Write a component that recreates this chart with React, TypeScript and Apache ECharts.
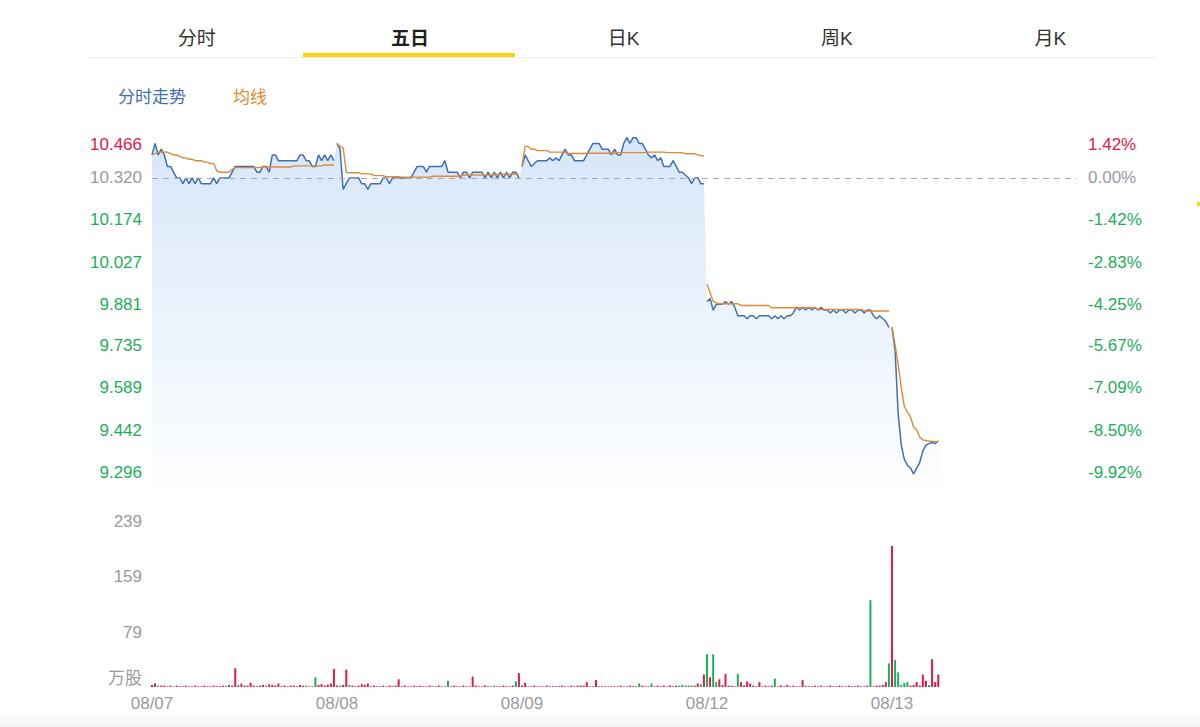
import React, { useEffect, useRef } from 'react';
import * as echarts from 'echarts';

// ---------- data ----------
const DAYS = ['08/07', '08/08', '08/09', '08/12', '08/13'];
const SLOTS_PER_DAY = 60;
const PREV_CLOSE = 10.32;
const PRICE_MIN = 9.2336;
const PRICE_MAX = 10.466;
const PRICE_TICKS = [10.466, 10.32, 10.174, 10.027, 9.881, 9.735, 9.589, 9.442, 9.296];
const PCT_TICKS = ['1.42%', '0.00%', '-1.42%', '-2.83%', '-4.25%', '-5.67%', '-7.09%', '-8.50%', '-9.92%'];
const VOL_TICKS = [0, 79, 159, 239];
const VOL_UNIT = '万股';
const TABS = ['分时', '五日', '日K', '周K', '月K'];
const ACTIVE_TAB = 1;
const LEGEND = ['分时走势', '均线'];

const price0807 = [
  10.40, 10.44, 10.40, 10.42, 10.40, 10.36, 10.36, 10.34, 10.32, 10.32,
  10.30, 10.32, 10.30, 10.32, 10.30, 10.32, 10.30, 10.30, 10.30, 10.30,
  10.32, 10.30, 10.32, 10.32, 10.32, 10.32, 10.34, 10.36, 10.36, 10.36,
  10.36, 10.36, 10.36, 10.36, 10.34, 10.34, 10.36, 10.36, 10.34, 10.40,
  10.40, 10.38, 10.38, 10.38, 10.38, 10.38, 10.38, 10.38, 10.40, 10.40,
  10.38, 10.38, 10.36, 10.36, 10.40, 10.38, 10.40, 10.38, 10.40, 10.38,
];
const price0808 = [
  10.44, 10.42, 10.28, 10.30, 10.32, 10.32, 10.32, 10.32, 10.30, 10.30,
  10.28, 10.30, 10.30, 10.30, 10.30, 10.32, 10.32, 10.30, 10.32, 10.32,
  10.32, 10.32, 10.32, 10.32, 10.32, 10.34, 10.36, 10.36, 10.36, 10.34,
  10.36, 10.36, 10.36, 10.36, 10.36, 10.38, 10.34, 10.34, 10.34, 10.34,
  10.32, 10.34, 10.34, 10.32, 10.34, 10.34, 10.34, 10.34, 10.32, 10.34,
  10.32, 10.34, 10.32, 10.34, 10.32, 10.34, 10.32, 10.34, 10.34, 10.32,
];
const price0809 = [
  10.36, 10.40, 10.38, 10.36, 10.37, 10.38, 10.38, 10.38, 10.38, 10.39,
  10.38, 10.39, 10.38, 10.40, 10.42, 10.40, 10.40, 10.38, 10.38, 10.38,
  10.38, 10.40, 10.42, 10.44, 10.44, 10.44, 10.42, 10.42, 10.42, 10.40,
  10.42, 10.40, 10.40, 10.44, 10.46, 10.44, 10.46, 10.46, 10.44, 10.44,
  10.42, 10.40, 10.39, 10.40, 10.38, 10.39, 10.36, 10.36, 10.36, 10.38,
  10.36, 10.34, 10.34, 10.33, 10.32, 10.30, 10.32, 10.32, 10.30, 10.30,
];
const price0812 = [
  9.89, 9.90, 9.86, 9.88, 9.88, 9.88, 9.89, 9.88, 9.89, 9.87,
  9.84, 9.84, 9.84, 9.83, 9.84, 9.84, 9.83, 9.84, 9.84, 9.84,
  9.84, 9.83, 9.84, 9.83, 9.84, 9.83, 9.84, 9.84, 9.85, 9.87,
  9.86, 9.87, 9.86, 9.87, 9.86, 9.87, 9.86, 9.87, 9.86, 9.86,
  9.85, 9.86, 9.85, 9.86, 9.86, 9.85, 9.86, 9.86, 9.85, 9.86,
  9.86, 9.85, 9.86, 9.86, 9.84, 9.83, 9.84, 9.83, 9.82, 9.80,
];
const price0813 = [
  9.80, 9.72, 9.50, 9.39, 9.34, 9.32, 9.31, 9.29, 9.31, 9.33,
  9.37, 9.39, 9.395, 9.40, 9.395, 9.405,
];

const avg0807 = [
  10.40, 10.405, 10.41, 10.41, 10.41, 10.41, 10.405, 10.40, 10.40, 10.395,
  10.39, 10.39, 10.385, 10.385, 10.38, 10.38, 10.38, 10.375, 10.375, 10.37,
  10.37, 10.345, 10.34, 10.34, 10.34, 10.34, 10.35, 10.356, 10.356, 10.356,
  10.356, 10.356, 10.356, 10.356, 10.356, 10.356, 10.358, 10.358, 10.358, 10.358,
  10.358, 10.358, 10.358, 10.358, 10.358, 10.358, 10.362, 10.362, 10.362, 10.362,
  10.362, 10.362, 10.362, 10.362, 10.362, 10.362, 10.365, 10.365, 10.365, 10.365,
];
const avg0808 = [
  10.44, 10.43, 10.425, 10.34, 10.338, 10.338, 10.338, 10.338, 10.334, 10.334,
  10.334, 10.334, 10.328, 10.328, 10.328, 10.328, 10.324, 10.324, 10.324, 10.324,
  10.324, 10.323, 10.323, 10.323, 10.323, 10.323, 10.323, 10.323, 10.323, 10.323,
  10.323, 10.326, 10.326, 10.326, 10.326, 10.326, 10.326, 10.326, 10.326, 10.326,
  10.326, 10.330, 10.330, 10.330, 10.330, 10.330, 10.330, 10.330, 10.330, 10.330,
  10.330, 10.333, 10.333, 10.333, 10.333, 10.333, 10.333, 10.333, 10.333, 10.333,
];
const avg0809 = [
  10.36, 10.43, 10.43, 10.42, 10.42, 10.415, 10.415, 10.415, 10.415, 10.41,
  10.41, 10.41, 10.41, 10.41, 10.41, 10.405, 10.405, 10.405, 10.405, 10.405,
  10.405, 10.406, 10.406, 10.406, 10.406, 10.406, 10.406, 10.406, 10.406, 10.406,
  10.406, 10.408, 10.408, 10.408, 10.408, 10.408, 10.408, 10.408, 10.408, 10.408,
  10.408, 10.41, 10.41, 10.41, 10.41, 10.41, 10.41, 10.408, 10.408, 10.408,
  10.408, 10.408, 10.408, 10.404, 10.404, 10.404, 10.404, 10.40, 10.398, 10.396,
];
const avg0812 = [
  9.95, 9.92, 9.89, 9.885, 9.882, 9.882, 9.882, 9.882, 9.882, 9.882,
  9.882, 9.876, 9.876, 9.876, 9.876, 9.876, 9.876, 9.876, 9.876, 9.876,
  9.876, 9.868, 9.868, 9.868, 9.868, 9.868, 9.868, 9.868, 9.868, 9.868,
  9.868, 9.868, 9.868, 9.868, 9.868, 9.868, 9.862, 9.862, 9.862, 9.862,
  9.862, 9.862, 9.862, 9.862, 9.862, 9.862, 9.862, 9.862, 9.862, 9.862,
  9.862, 9.857, 9.857, 9.857, 9.857, 9.857, 9.857, 9.857, 9.857, 9.857,
];
const avg0813 = [
  9.80, 9.74, 9.67, 9.59, 9.525, 9.505, 9.488, 9.453, 9.443, 9.418,
  9.408, 9.406, 9.404, 9.403, 9.402, 9.401,
];

// volume in 万股; negative = down-tick (green), positive = up-tick (red)
const vol0807 = [
  3, 5, -2, 2, 2, 1, 2, -1, 2, 1,
  1, 2, 1, 1, 2, 1, 1, 2, 1, 1,
  2, 1, 1, 2, 1, 3, 2, 27, -3, 5,
  2, 2, 6, 2, 1, 2, 3, -2, 4, 3,
  2, 5, 1, 2, 1, 2, 2, 1, 3, 2,
  -2, 1, 1, -14, 3, 4, 2, 3, 5, 26,
];
const vol0808 = [
  2, -2, 3, 25, -3, 2, 1, 2, 4, 3,
  5, 1, 2, 1, 1, 2, 1, 2, 1, 2,
  11, 1, 2, 1, 1, 2, 1, 2, 1, 1,
  2, 1, 1, 2, 1, 1, -9, 1, 2, 1,
  1, 2, 1, 1, 15, 2, 1, 1, 2, 1,
  1, -2, 1, 1, 2, 1, 1, 2, -8, 20,
];
const vol0809 = [
  2, 6, 1, 1, 2, 1, 1, 1, 2, 1,
  1, 1, 1, 2, 1, 1, 2, 1, 2, 2,
  2, 7, 1, 1, 10, 1, 1, 1, 1, 1,
  1, 1, 2, 1, 1, 2, 1, 1, -5, 2,
  1, 1, -5, 1, 2, 1, 2, 1, 2, 1,
  2, -2, -3, -2, 2, -2, 2, 5, -4, 18,
];
const vol0812 = [
  -47, 14, -47, -7, 11, 3, 19, 2, 2, 1,
  -19, 7, 2, 8, 5, 2, 1, 7, 1, 2,
  1, 2, -12, 1, 2, 1, 3, 1, 2, 1,
  1, 10, -2, 1, 1, 2, 1, 2, 1, 1,
  2, 1, 1, 2, 1, 1, 2, 1, 1, 2,
  1, 1, 2, -125, 1, 2, 2, 3, 7, -34,
];
const vol0813 = [
  203, -39, -21, -3, -6, -7, 2, 3, 7, 2,
  18, 9, -3, 40, 7, 18,
];

const priceDays = [price0807, price0808, price0809, price0812, price0813];
const avgDays = [avg0807, avg0808, avg0809, avg0812, avg0813];
const volDays = [vol0807, vol0808, vol0809, vol0812, vol0813];

// ---------- style ----------
const RED = '#e3184b';
const GREEN = '#1bb058';
const GREY = '#9a9aa2';
const BLUE = '#3f6fb6';
const ORANGE = '#e08a33';
const FONT = '"Helvetica Neue", Helvetica, Arial, "Noto Sans CJK SC", sans-serif';
const AXIS_FS = 17;

const SLOT_COUNT = DAYS.length * SLOTS_PER_DAY + 1;
const categories = Array.from(
  { length: SLOT_COUNT },
  (_, i) => `${DAYS[Math.floor(i / SLOTS_PER_DAY)] ?? ''}#${i % SLOTS_PER_DAY}`
);

function placeDay(arr: number[], d: number) {
  const out: any[] = new Array(SLOT_COUNT).fill('-');
  arr.forEach((v, k) => {
    out[d * SLOTS_PER_DAY + k] = v;
  });
  return out;
}

function placeAll(days: number[][]) {
  const out: any[] = new Array(SLOT_COUNT).fill('-');
  days.forEach((arr, d) =>
    arr.forEach((v, k) => {
      out[d * SLOTS_PER_DAY + k] = v;
    })
  );
  return out;
}

function nearestIdx(list: number[], v: number) {
  let best = 0;
  list.forEach((t, i) => {
    if (Math.abs(t - v) < Math.abs(list[best] - v)) best = i;
  });
  return best;
}

function styleFor(i: number) {
  const v = PRICE_TICKS[i];
  if (Math.abs(v - PREV_CLOSE) < 1e-6) return 'flat';
  return v > PREV_CLOSE ? 'up' : 'down';
}

function buildOption(): any {
  const fullPrice = placeAll(priceDays);
  const volData = placeAll(volDays).map((v) =>
    v === '-' ? '-' : { value: Math.abs(v), itemStyle: { color: v >= 0 ? RED : GREEN } }
  );

  const labelRich = {
    up: { color: RED, fontSize: AXIS_FS, lineHeight: 16, fontFamily: FONT },
    down: { color: GREEN, fontSize: AXIS_FS, lineHeight: 16, fontFamily: FONT },
    flat: { color: GREY, fontSize: AXIS_FS, lineHeight: 16, fontFamily: FONT },
  };

  const priceLines = priceDays.map((arr, d) => ({
    type: 'line',
    name: LEGEND[0],
    data: placeDay(arr, d),
    xAxisIndex: 0,
    yAxisIndex: 0,
    symbol: 'none',
    showSymbol: false,
    connectNulls: false,
    lineStyle: { color: BLUE, width: 1.5 },
    itemStyle: { color: BLUE },
    z: 4,
    silent: true,
  }));
  const avgLines = avgDays.map((arr, d) => ({
    type: 'line',
    name: LEGEND[1],
    data: placeDay(arr, d),
    xAxisIndex: 0,
    yAxisIndex: 0,
    symbol: 'none',
    showSymbol: false,
    connectNulls: false,
    lineStyle: { color: ORANGE, width: 1.4 },
    itemStyle: { color: ORANGE },
    z: 5,
    silent: true,
  }));

  return {
    animation: false,
    backgroundColor: '#fff',
    textStyle: { fontFamily: FONT },
    legend: {
      left: 108,
      top: 84,
      itemWidth: 0,
      itemHeight: 0,
      itemGap: 42,
      icon: 'rect',
      selectedMode: false,
      textStyle: { fontSize: 17, fontFamily: FONT },
      data: [
        { name: LEGEND[0], textStyle: { color: BLUE } },
        { name: LEGEND[1], textStyle: { color: ORANGE } },
      ],
    },
    grid: [
      { left: 152, right: 123, top: 136, height: 354 },
      { left: 152, right: 123, top: 521, height: 166 },
    ],
    xAxis: [
      { type: 'category', gridIndex: 0, data: categories, boundaryGap: false, show: false },
      {
        type: 'category',
        gridIndex: 1,
        data: categories,
        boundaryGap: false,
        axisLine: { show: false },
        axisTick: { show: false },
        splitLine: { show: false },
        axisLabel: {
          interval: (i: number) => i % SLOTS_PER_DAY === 0 && i < SLOT_COUNT - 1,
          formatter: (v: string) => v.split('#')[0],
          color: GREY,
          fontSize: AXIS_FS,
          fontFamily: FONT,
          margin: 8,
        },
      },
    ],
    yAxis: [
      {
        type: 'value',
        gridIndex: 0,
        position: 'left',
        min: PRICE_MIN,
        max: PRICE_MAX,
        splitLine: { show: false },
        axisLine: { show: false },
        axisTick: { show: false },
        axisLabel: {
          customValues: PRICE_TICKS,
          margin: 10,
          lineHeight: 16,
          fontSize: AXIS_FS,
          formatter: (v: number) => {
            const i = nearestIdx(PRICE_TICKS, v);
            const t = `{${styleFor(i)}|${PRICE_TICKS[i].toFixed(3)}}`;
            return i === 0 ? `\n${t}` : t;
          },
          rich: labelRich,
        },
      },
      {
        type: 'value',
        gridIndex: 0,
        position: 'right',
        min: PRICE_MIN,
        max: PRICE_MAX,
        splitLine: { show: false },
        axisLine: { show: false },
        axisTick: { show: false },
        axisLabel: {
          customValues: PRICE_TICKS,
          margin: 11,
          lineHeight: 16,
          fontSize: AXIS_FS,
          formatter: (v: number) => {
            const i = nearestIdx(PRICE_TICKS, v);
            const t = `{${styleFor(i)}|${PCT_TICKS[i]}}`;
            return i === 0 ? `\n${t}` : t;
          },
          rich: labelRich,
        },
      },
      {
        type: 'value',
        gridIndex: 1,
        position: 'left',
        min: VOL_TICKS[0],
        max: VOL_TICKS[VOL_TICKS.length - 1],
        splitLine: { show: false },
        axisLine: { show: false },
        axisTick: { show: false },
        axisLabel: {
          customValues: VOL_TICKS,
          margin: 10,
          lineHeight: 18,
          fontSize: AXIS_FS,
          color: GREY,
          formatter: (v: number) => (v === 0 ? `{u|${VOL_UNIT}}\n` : `{n|${v}}`),
          rich: {
            u: { color: GREY, fontSize: AXIS_FS, lineHeight: 18, fontFamily: FONT },
            n: { color: GREY, fontSize: AXIS_FS, lineHeight: 18, fontFamily: FONT },
          },
        },
      },
    ],
    series: [
      {
        type: 'line',
        name: 'area',
        data: fullPrice,
        xAxisIndex: 0,
        yAxisIndex: 0,
        symbol: 'none',
        showSymbol: false,
        lineStyle: { width: 0, opacity: 0 },
        areaStyle: {
          origin: 'start',
          color: new echarts.graphic.LinearGradient(0, 0, 0, 1, [
            { offset: 0, color: 'rgba(160,197,240,0.62)' },
            { offset: 0.6, color: 'rgba(196,220,247,0.42)' },
            { offset: 1, color: 'rgba(232,241,252,0.2)' },
          ]),
        },
        z: 1,
        silent: true,
        markLine: {
          silent: true,
          symbol: ['none', 'none'],
          label: { show: false },
          lineStyle: { type: [6, 5], color: '#a9a9b0', width: 1 },
          data: [{ yAxis: PREV_CLOSE }],
        },
      },
      ...priceLines,
      ...avgLines,
      {
        type: 'bar',
        name: 'volume',
        data: volData,
        xAxisIndex: 1,
        yAxisIndex: 2,
        barWidth: 2,
        silent: true,
      },
    ],
    graphic: [
      {
        type: 'rect',
        shape: { x: 0, y: 705, width: 1200, height: 22 },
        style: {
          fill: new echarts.graphic.LinearGradient(0, 0, 0, 1, [
            { offset: 0, color: 'rgba(255,255,255,0)' },
            { offset: 1, color: '#f1f1f3' },
          ]),
        },
        z: -10,
        silent: true,
      },
      {
        type: 'rect',
        shape: { x: 88, y: 57, width: 1068, height: 1 },
        style: { fill: '#ececef' },
        silent: true,
      },
      {
        type: 'rect',
        shape: { x: 303, y: 53, width: 212, height: 4 },
        style: { fill: '#f6d70c' },
        silent: true,
      },
      {
        type: 'rect',
        shape: { x: 1197, y: 202, width: 3, height: 4 },
        style: { fill: '#f6d70c' },
        silent: true,
      },
      ...TABS.map((t, i) => ({
        type: 'text',
        x: 196.7 + i * 213.4,
        y: 38,
        silent: true,
        style: {
          text: t,
          fill: i === ACTIVE_TAB ? '#1e1e1e' : '#333',
          fontSize: 19,
          fontWeight: i === ACTIVE_TAB ? 'bold' : 'normal',
          fontFamily: FONT,
          textAlign: 'center',
          textVerticalAlign: 'middle',
        },
      })),
    ],
  };
}

export default function App() {
  const ref = useRef<HTMLDivElement>(null);
  useEffect(() => {
    if (!ref.current) return;
    const chart = echarts.init(ref.current, undefined, { renderer: 'svg' });
    chart.setOption(buildOption());
    return () => chart.dispose();
  }, []);
  return (
    <div
      ref={ref}
      style={{ position: 'absolute', left: 0, top: 0, width: 1200, height: 727, background: '#fff' }}
    />
  );
}
